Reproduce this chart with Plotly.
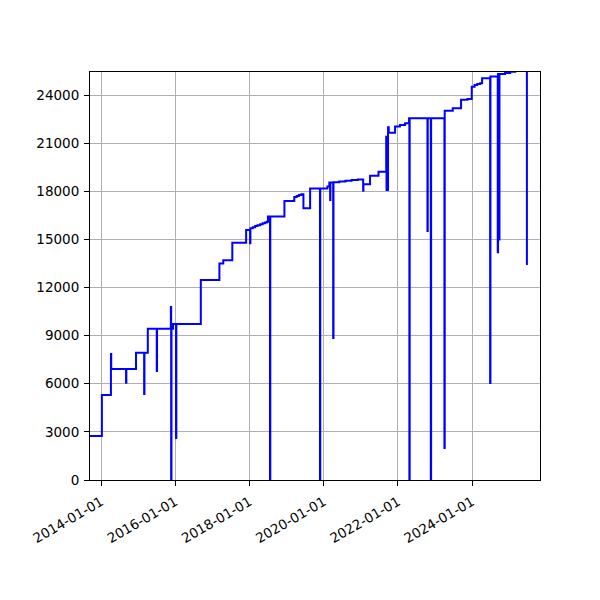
import plotly.graph_objects as go

dates = [
    "2013-09-10", "2014-01-08", "2014-04-07", "2014-04-10", "2014-09-03", "2014-09-06",
    "2014-12-10", "2015-02-28", "2015-03-03", "2015-04-05", "2015-07-02", "2015-07-05",
    "2015-11-18", "2015-11-21", "2015-11-24", "2015-12-10", "2016-01-08", "2016-01-11",
    "2016-09-08", "2017-03-10", "2017-04-17", "2017-07-15", "2017-11-28", "2018-01-06",
    "2018-01-09", "2018-02-01", "2018-02-25", "2018-03-20", "2018-04-15", "2018-05-10",
    "2018-06-01", "2018-06-20", "2018-07-01", "2018-07-21",
    "2018-07-24", "2018-12-10", "2019-03-17", "2019-04-10", "2019-05-01", "2019-05-25", "2019-06-15",
    "2019-08-20", "2019-11-25", "2019-11-28", "2020-02-06", "2020-02-25", "2020-03-04",
    "2020-03-07", "2020-04-03", "2020-04-06", "2020-06-01", "2020-08-01", "2020-10-01",
    "2020-12-01", "2021-01-23",
    "2021-01-26", "2021-04-01", "2021-06-23", "2021-09-07", "2021-09-10", "2021-09-25",
    "2021-10-02", "2021-12-03", "2022-01-20", "2022-03-12", "2022-04-20", "2022-04-23",
    "2022-04-26", "2022-10-18", "2022-10-21", "2022-11-20", "2022-11-23", "2023-04-03",
    "2023-04-06", "2023-06-24", "2023-09-14", "2023-11-15", "2023-12-28", "2024-01-25",
    "2024-02-20", "2024-03-20", "2024-04-08", "2024-06-26", "2024-06-29", "2024-09-09", "2024-09-12",
    "2024-09-23", "2024-09-26", "2024-11-20", "2025-01-10", "2025-03-01", "2025-06-23",
]
values = [
    2750, 5300, 7850, 6920, 6070, 6920,
    7940, 5360, 7940, 9430, 6800, 9430,
    10780, 0, 9430, 9730, 2620, 9730,
    12470, 13500, 13700, 14790, 15590, 14760,
    15700, 15760, 15830, 15880, 15940, 16000,
    16050, 16100, 16420, 0,
    16420, 17390, 17640, 17700, 17760, 17820, 16940,
    18180, 0, 18180, 18290, 18540, 17450,
    18540, 8850, 18560, 18610, 18660, 18700,
    18740, 18030,
    18430, 18970, 19220, 21400, 18080, 21990,
    21650, 22030, 22130, 22240, 22550, 0,
    22550, 15520, 22550, 0, 22550, 2000,
    23020, 23170, 23710, 23750, 24520, 24620,
    24680, 24740, 25040, 6050, 25150, 14200, 25310,
    15000, 25310, 25380, 25450, 25600, 13400,
]

x_range = ["2013-09-13", "2025-10-30"]
y_range = [0, 25435]
y_ticks = [0, 3000, 6000, 9000, 12000, 15000, 18000, 21000, 24000]

fig = go.Figure()
fig.add_trace(go.Scatter(
    x=dates, y=values, mode="lines",
    line=dict(color="#0000ff", width=2, shape="hv"),
    hoverinfo="skip", showlegend=False,
))

axis_common = dict(
    showline=True, mirror=True, linecolor="black", linewidth=1,
    ticks="outside", ticklen=5, tickcolor="black", tickwidth=1,
    showgrid=True, gridcolor="#b0b0b0", gridwidth=0.8, zeroline=False,
)

fig.update_layout(
    width=600, height=600,
    margin=dict(l=82, r=68, t=64, b=128),
    paper_bgcolor="white", plot_bgcolor="white",
    font=dict(family="DejaVu Sans", size=13.5, color="black"),
    xaxis=dict(
        type="date", range=x_range, tick0="2014-01-01", dtick="M24",
        tickformat="%Y-%m-%d", tickangle=-30, ticklabelstandoff=3, **axis_common,
    ),
    yaxis=dict(
        range=y_range, tickmode="array", tickvals=y_ticks,
        ticktext=[str(v) for v in y_ticks], ticklabelstandoff=2, **axis_common,
    ),
)

fig.write_html("out.html")
